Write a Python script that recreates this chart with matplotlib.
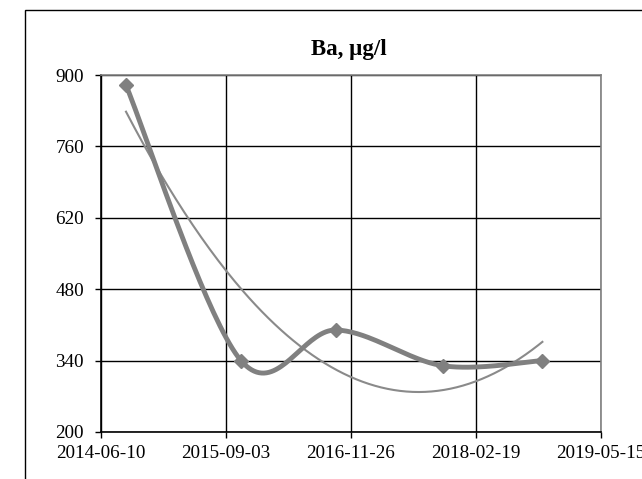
import numpy as np
import matplotlib
matplotlib.use('Agg')
import matplotlib.pyplot as plt
import matplotlib.dates as mdates
from matplotlib.patches import Rectangle
import datetime as dt

# sample dates and Ba concentration, ug/l
dates = ['2014-09-08', '2015-10-27', '2016-10-03', '2017-10-22', '2018-10-16']
ba = [880, 340, 400, 330, 340]

x_start = '2014-06-10'
tick_step_days = 450
y_ticks = [200, 340, 480, 620, 760, 900]

plt.rcParams['font.family'] = ['Liberation Serif', 'DejaVu Serif']

xd = mdates.date2num([dt.datetime.strptime(d, '%Y-%m-%d') for d in dates])
yv = np.array(ba, dtype=float)
x0 = mdates.date2num(dt.datetime.strptime(x_start, '%Y-%m-%d'))
xticks = x0 + np.arange(5) * tick_step_days


def excel_smooth(x, y, xr, yr, n=40):
    # bezier smoothing done in normalised (screen-like) space, like excel
    px = (x - xr[0]) / (xr[1] - xr[0])
    py = (y - yr[0]) / (yr[1] - yr[0]) * 0.715
    P = np.column_stack([px, py])
    m = len(P)
    out = []
    for i in range(m - 1):
        p0 = P[i - 1] if i > 0 else P[i]
        p1 = P[i]
        p2 = P[i + 1]
        p3 = P[i + 2] if i + 2 < m else P[i + 1]
        c1 = p1 + (p2 - p0) / 6
        c2 = p2 - (p3 - p1) / 6
        t = np.linspace(0, 1, n)[:, None]
        seg = ((1 - t) ** 3) * p1 + 3 * ((1 - t) ** 2) * t * c1 + 3 * (1 - t) * t ** 2 * c2 + t ** 3 * p2
        out.append(seg if i == 0 else seg[1:])
    s = np.vstack(out)
    sx = s[:, 0] * (xr[1] - xr[0]) + xr[0]
    sy = s[:, 1] / 0.715 * (yr[1] - yr[0]) + yr[0]
    return sx, sy


fig = plt.figure(figsize=(6.42, 4.79), dpi=100)
fig.patches.append(Rectangle((25 / 642, -0.1), 1.2, 1 - 10 / 479 + 0.1,
                             transform=fig.transFigure, fill=False,
                             edgecolor='black', linewidth=1.0))
ax = fig.add_axes([101 / 642, 1 - 432 / 479, 500 / 642, 357 / 479])

xr = (xticks[0], xticks[-1])
yr = (200, 900)
sx, sy = excel_smooth(xd, yv, xr, yr)

# quadratic trend line
coef = np.polyfit(xd, yv, 2)
tx = np.linspace(xd[0], xd[-1], 200)
ty = np.polyval(coef, tx)

ax.plot(tx, ty, color='#8a8a8a', linewidth=1.5, zorder=3)
ax.plot(sx, sy, color='#808080', linewidth=3.5, zorder=4, solid_capstyle='round')
ax.plot(xd, yv, linestyle='none', marker='D', markersize=7,
        color='#808080', zorder=5)

ax.set_xlim(xr)
ax.set_ylim(yr)
ax.set_xticks(xticks)
ax.xaxis.set_major_formatter(mdates.DateFormatter('%Y-%m-%d'))
ax.set_yticks(y_ticks)
ax.grid(True, color='black', linewidth=1.0)
ax.set_axisbelow(True)
ax.tick_params(labelsize=13.8, length=4.3, width=1, direction='out')
ax.tick_params(axis='y', pad=8)
ax.tick_params(axis='x', pad=5)
for s in ['top', 'right']:
    ax.spines[s].set_color('#808080')
for s in ['left', 'bottom']:
    ax.spines[s].set_color('black')
for s in ax.spines.values():
    s.set_linewidth(1.2)

fig.text(349 / 642, 1 - 49 / 479, 'Ba, µg/l', ha='center', va='center',
         fontsize=16.5, fontweight='bold')

fig.savefig('out.png', dpi=100)
